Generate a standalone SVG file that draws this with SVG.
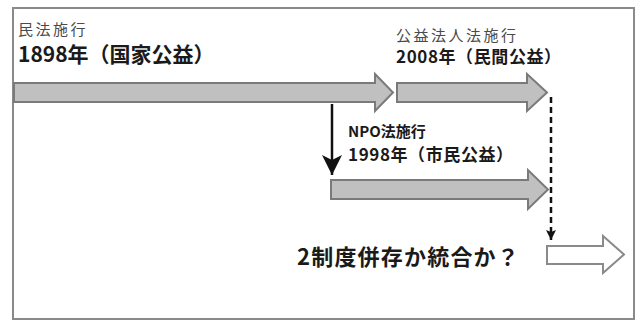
<svg xmlns="http://www.w3.org/2000/svg" width="639" height="320" viewBox="0 0 639 320">
<style>
.frame{fill:#ffffff;stroke:#8a8a8a;stroke-width:2}
.bar{fill:#c0c0c0;stroke:#7a7a7a;stroke-width:2;stroke-linejoin:miter}
.hollow{fill:#ffffff;stroke:#8a8a8a;stroke-width:2}
.t{font-family:"Noto Sans CJK JP","Noto Sans CJK SC",sans-serif}
.small{font-size:15px;fill:#4a4a4a}
.bold{font-weight:bold;fill:#1a1a1a}
.conn{fill:none;stroke:#111111}
</style>
<defs>
<marker id="headBig" markerUnits="userSpaceOnUse" markerWidth="20" markerHeight="20" viewBox="0 0 20 20" refX="20" refY="10" orient="auto">
<path d="M0,0 L20,10 L0,20 L5,10 z" fill="#111111"/>
</marker>
<marker id="headSmall" markerUnits="userSpaceOnUse" markerWidth="10" markerHeight="10" viewBox="0 0 10 10" refX="10" refY="5" orient="auto">
<path d="M0,0 L10,5 L0,10 L2,5 z" fill="#111111"/>
</marker>
</defs>
<rect class="frame" x="13" y="8" width="621" height="311"/>
<g id="civil-code">
<text class="t small" x="18" y="35" letter-spacing="2.5">民法施行</text>
<text class="t bold" x="18" y="62" font-size="21">1898年（国家公益）</text>
<polygon class="bar" points="14,83 375,83 375,74 393,92.5 375,111 375,102 14,102"/>
</g>
<g id="public-interest-act">
<text class="t small" x="396" y="41" letter-spacing="2.5">公益法人法施行</text>
<text class="t bold" x="396" y="63" font-size="17" letter-spacing="0.6">2008年（民間公益）</text>
<polygon class="bar" points="397,83 527,83 527,74 547,92.5 527,111 527,102 397,102"/>
</g>
<g id="npo-act">
<text class="t bold" x="348" y="137" font-size="15">NPO法施行</text>
<text class="t bold" x="348" y="161" font-size="17" letter-spacing="0.6">1998年（市民公益）</text>
<polygon class="bar" points="331,180 528,180 528,170 548,189.5 528,209 528,199 331,199"/>
</g>
<g id="future">
<text class="t bold" x="297" y="265" font-size="22" letter-spacing="1.2">2制度併存か統合か？</text>
<polygon class="hollow" points="547,246 603,246 603,236 624,254.5 603,273 603,264 547,264"/>
</g>
<g id="connectors">
<line class="conn" x1="332" y1="104" x2="332" y2="175" stroke-width="2.5" marker-end="url(#headBig)"/>
<line class="conn" x1="551" y1="97" x2="551" y2="240" stroke-width="2.5" stroke-dasharray="6 4" marker-end="url(#headSmall)"/>
</g>
</svg>
